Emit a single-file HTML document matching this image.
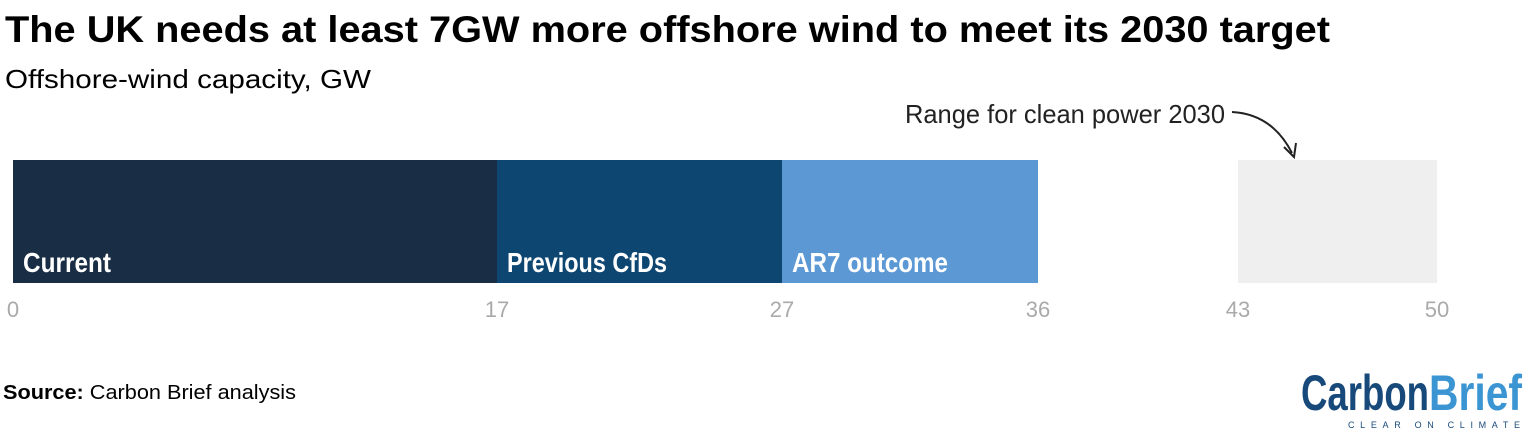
<!DOCTYPE html>
<html><head><meta charset="utf-8"><style>
html,body{margin:0;padding:0;background:#fff;}
svg{display:block;font-family:"Liberation Sans",sans-serif;}
</style></head><body>
<svg width="1524" height="434" viewBox="0 0 1524 434">
<text x="5" y="42" font-size="37" font-weight="bold" fill="#000" textLength="1325" lengthAdjust="spacingAndGlyphs">The UK needs at least 7GW more offshore wind to meet its 2030 target</text>
<text x="5" y="88" font-size="26" fill="#000" textLength="366" lengthAdjust="spacingAndGlyphs">Offshore-wind capacity, GW</text>
<rect x="13" y="160" width="484" height="123" fill="#192d45"/>
<rect x="497" y="160" width="285" height="123" fill="#0e4672"/>
<rect x="782" y="160" width="256" height="123" fill="#5b98d4"/>
<rect x="1238" y="160" width="199" height="123" fill="#efefef"/>
<g font-size="28" font-weight="bold" fill="#fff">
<text x="23" y="272" textLength="88" lengthAdjust="spacingAndGlyphs">Current</text>
<text x="507" y="272" textLength="160" lengthAdjust="spacingAndGlyphs">Previous CfDs</text>
<text x="792" y="272" textLength="156" lengthAdjust="spacingAndGlyphs">AR7 outcome</text>
</g>
<g font-size="22" fill="#aaaaaa" text-anchor="middle">
<text x="13" y="317">0</text>
<text x="497" y="317">17</text>
<text x="782" y="317">27</text>
<text x="1038" y="317">36</text>
<text x="1238" y="317">43</text>
<text x="1437" y="317">50</text>
</g>
<text x="905" y="123" font-size="26" fill="#222" textLength="320" lengthAdjust="spacingAndGlyphs">Range for clean power 2030</text>
<path d="M1232,112 Q1272,114 1292,153" fill="none" stroke="#222" stroke-width="2"/>
<path d="M1284,147 L1294,157 L1296,143" fill="none" stroke="#222" stroke-width="2"/>
<text x="3" y="399" font-size="20" fill="#000" textLength="293" lengthAdjust="spacingAndGlyphs"><tspan font-weight="bold">Source:</tspan> Carbon Brief analysis</text>
<text x="1301" y="410" font-size="50" font-weight="bold" fill="#174a7a" textLength="128" lengthAdjust="spacingAndGlyphs">Carbon</text>
<text x="1429" y="410" font-size="50" font-weight="bold" fill="#3b95d3" textLength="93" lengthAdjust="spacingAndGlyphs">Brief</text>
<text x="1348" y="428" font-size="9" fill="#174a7a" textLength="172" lengthAdjust="spacing">CLEAR ON CLIMATE</text>
</svg>
</body></html>
